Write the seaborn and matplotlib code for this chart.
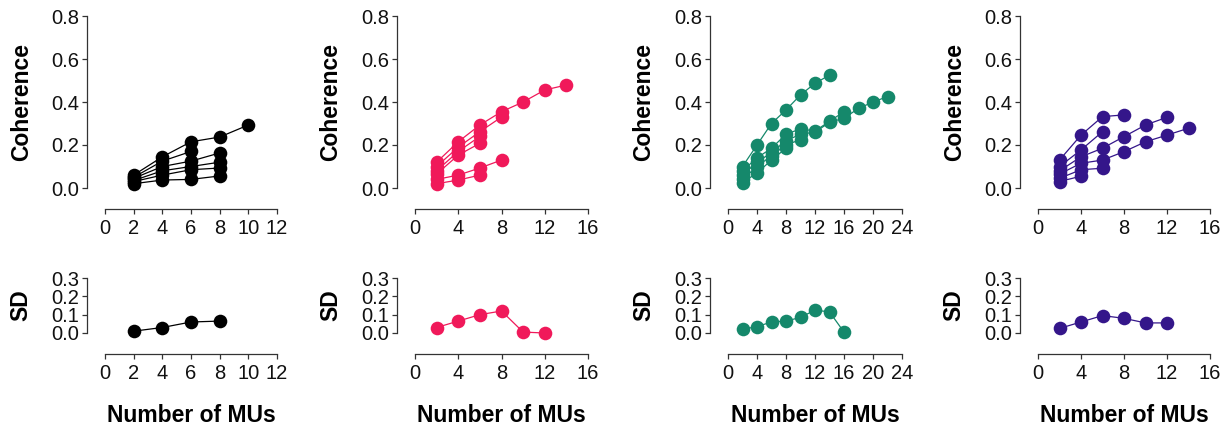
import pandas as pd
import matplotlib
matplotlib.use("Agg")
import matplotlib.pyplot as plt
import seaborn as sns

# Number of MUs used for every curve (each curve starts at 2)
mus = [2, 4, 6, 8, 10, 12, 14, 16, 18, 20, 22]

# Coherence curves per group
black_coh = [
    [0.06, 0.145, 0.215, 0.237, 0.293],
    [0.05, 0.125, 0.17],
    [0.045, 0.10, 0.125, 0.163],
    [0.035, 0.08, 0.10, 0.12],
    [0.03, 0.06, 0.085, 0.093],
    [0.02, 0.037, 0.04, 0.056],
]
pink_coh = [
    [0.12, 0.215, 0.293, 0.355, 0.40, 0.456, 0.479],
    [0.10, 0.19, 0.262, 0.33],
    [0.08, 0.17, 0.24],
    [0.065, 0.153, 0.208],
    [0.04, 0.06, 0.093, 0.13],
    [0.02, 0.037, 0.06],
]
teal_coh = [
    [0.10, 0.20, 0.30, 0.363, 0.433, 0.487, 0.525],
    [0.08, 0.14, 0.185, 0.25, 0.275, 0.265, 0.31, 0.355],
    [0.06, 0.12, 0.165, 0.22, 0.25, 0.26, 0.305, 0.325, 0.37, 0.40, 0.425],
    [0.04, 0.10, 0.15, 0.20, 0.225],
    [0.025, 0.07, 0.13, 0.185],
]
purple_coh = [
    [0.13, 0.246, 0.332, 0.34],
    [0.10, 0.177, 0.262],
    [0.08, 0.145, 0.185, 0.239, 0.293, 0.329],
    [0.065, 0.115, 0.13, 0.169, 0.215, 0.246, 0.278],
    [0.045, 0.085, 0.092],
    [0.03, 0.055],
]

# SD across curves
black_sd = [0.01, 0.03, 0.06, 0.065]
pink_sd = [0.03, 0.065, 0.10, 0.12, 0.005, 0.0]
teal_sd = [0.02, 0.035, 0.06, 0.065, 0.085, 0.125, 0.115, 0.005]
purple_sd = [0.025, 0.06, 0.095, 0.08, 0.055, 0.055]

colors = ["#000000", "#f0195a", "#15886b", "#34168a"]
x_max = [12, 16, 24, 16]
x_step = [2, 4, 4, 4]

sns.set_style("white")
plt.rcParams["font.family"] = ["Liberation Sans", "DejaVu Sans"]
plt.rcParams["text.color"] = "black"
plt.rcParams["axes.labelcolor"] = "black"


def to_long(curves):
    rows = []
    for i, c in enumerate(curves):
        for x, y in zip(mus, c):
            rows.append({"curve": i, "mus": x, "value": y})
    return pd.DataFrame(rows)


fig = plt.figure(figsize=(12.25, 4.29), dpi=100)
W, H = 1225, 429
lefts = [105, 415, 728, 1038]
rights = [277, 588, 902, 1210]

groups = [(black_coh, black_sd), (pink_coh, pink_sd),
          (teal_coh, teal_sd), (purple_coh, purple_sd)]


def style_axis(ax, xmax, step, yticks, ylabel):
    ax.set_xlim(0, xmax)
    ax.set_xticks(range(0, xmax + 1, step))
    ax.set_yticks(yticks)
    ax.set_yticklabels([f"{t:.1f}" for t in yticks])
    ax.set_ylim(yticks[0], yticks[-1])
    sns.despine(ax=ax, offset={"left": 13, "bottom": 15})
    for s in ["left", "bottom"]:
        ax.spines[s].set_color("#333333")
        ax.spines[s].set_linewidth(0.9)
    ax.tick_params(axis="both", direction="out", length=3.5, width=0.9,
                   bottom=True, left=True,
                   color="#333333", labelsize=14.5, labelcolor="#111111", pad=2)
    ax.tick_params(axis="x", pad=4)
    ax.set_ylabel(ylabel, fontsize=16.5, fontweight="bold")
    ax.yaxis.set_label_coords(-0.42, 0.5)
    ax.set_xlabel("")
    if ax.get_legend():
        ax.get_legend().remove()


for i, (coh, sd) in enumerate(groups):
    left = lefts[i] / W
    width = (rights[i] - lefts[i]) / W

    ax = fig.add_axes([left, 1 - 188 / H, width, 172 / H])
    df = to_long(coh)
    sns.lineplot(data=df, x="mus", y="value", units="curve", estimator=None,
                 color=colors[i], marker="o", markersize=9.8, markeredgewidth=0,
                 linewidth=0.9, ax=ax, clip_on=False)
    style_axis(ax, x_max[i], x_step[i], [0.0, 0.2, 0.4, 0.6, 0.8], "Coherence")

    ax2 = fig.add_axes([left, 1 - 333 / H, width, 55 / H])
    sd_df = pd.DataFrame({"mus": mus[:len(sd)], "value": sd})
    sns.lineplot(data=sd_df, x="mus", y="value", color=colors[i], marker="o",
                 markersize=9.8, markeredgewidth=0, linewidth=0.9, ax=ax2,
                 clip_on=False)
    style_axis(ax2, x_max[i], x_step[i], [0.0, 0.1, 0.2, 0.3], "SD")
    ax2.set_xlabel("Number of MUs", fontsize=16.5, fontweight="bold")
    ax2.xaxis.set_label_coords(0.5, -1.3)

fig.savefig("out.png", dpi=100)
